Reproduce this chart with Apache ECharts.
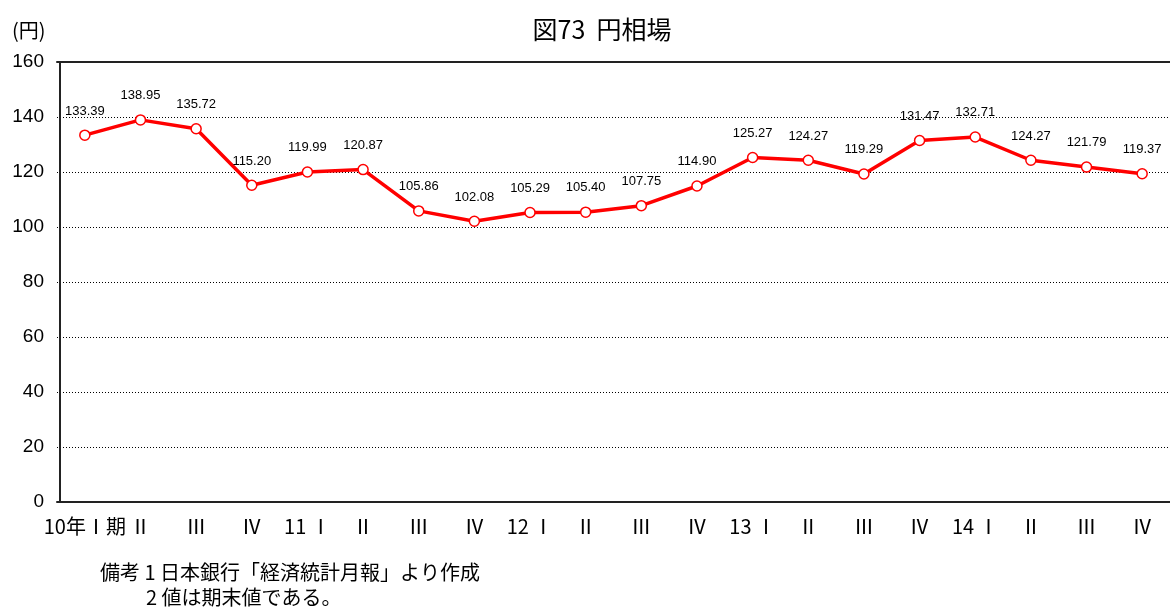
<!DOCTYPE html>
<html><head><meta charset="utf-8">
<script src="https://cdn.jsdelivr.net/npm/echarts@6/dist/echarts.min.js"></script>
<style>html,body{margin:0;padding:0;background:#fff}#c{width:1170px;height:610px}</style>
</head><body><div id="c"></div>
<script>
const categories = ['10年Ⅰ期','Ⅱ','Ⅲ','Ⅳ','11 Ⅰ','Ⅱ','Ⅲ','Ⅳ','12 Ⅰ','Ⅱ','Ⅲ','Ⅳ','13 Ⅰ','Ⅱ','Ⅲ','Ⅳ','14 Ⅰ','Ⅱ','Ⅲ','Ⅳ'];
const yenRate = [133.39,138.95,135.72,115.20,119.99,120.87,105.86,102.08,105.29,105.40,107.75,114.90,125.27,124.27,119.29,131.47,132.71,124.27,121.79,119.37];
const yTicks = [0,20,40,60,80,100,120,140,160];
const titleText = '図73  円相場';
const unitText = '(円)';
const noteLines = ['備考 1 日本銀行「経済統計月報」より作成', '2 値は期末値である。'];

const NUM = "'Liberation Sans', Arial, sans-serif";
const JP = "'Noto Sans CJK JP', 'Liberation Sans', sans-serif";
const chart = echarts.init(document.getElementById('c'), null, {renderer:'canvas'});
chart.setOption({
  animation:false,
  backgroundColor:'#fff',
  title:{text:titleText,left:597,textAlign:'center',top:12,textStyle:{fontFamily:JP,fontSize:25,fontWeight:'normal',color:'#000'}},
  graphic:[
    {type:'text',left:12,top:20,style:{text:unitText,font:"20px "+JP,fill:'#000'}},
    {type:'text',left:100,top:562,style:{text:noteLines[0],font:"20px "+JP,fill:'#000'}},
    {type:'text',left:146,top:587,style:{text:noteLines[1],font:"20px "+JP,fill:'#000'}}
  ],
  grid:{left:57,top:62,width:1121,height:440,containLabel:false},
  xAxis:[{
    type:'category',data:categories,boundaryGap:true,
    axisLine:{show:true,lineStyle:{color:'#222',width:2}},
    axisTick:{show:false},
    axisLabel:{interval:0,margin:14,fontFamily:JP,fontSize:20,color:'#000'},
    splitLine:{show:false}
  },{
    type:'category',data:categories,position:'top',boundaryGap:true,
    axisLine:{show:true,lineStyle:{color:'#222',width:2}},
    axisTick:{show:false},axisLabel:{show:false}
  }],
  yAxis:{
    type:'value',min:0,max:160,interval:20,offset:-3,
    axisLine:{show:true,lineStyle:{color:'#222',width:2}},
    axisTick:{show:false},
    axisLabel:{margin:16,fontFamily:NUM,fontSize:19,color:'#000',
      formatter:v=>yTicks.includes(v)?String(v):''},
    splitLine:{show:true,lineStyle:{color:'#000',type:[1,2],width:1}}
  },
  series:[{
    type:'line',data:yenRate,
    lineStyle:{color:'#ff0000',width:3.5},
    symbol:'circle',symbolSize:10,
    itemStyle:{color:'#fff',borderColor:'#ff0000',borderWidth:1.5},
    label:{show:true,position:'top',distance:12,fontFamily:NUM,fontSize:13,color:'#000',
      formatter:p=>p.value.toFixed(2)}
  }]
});
</script></body></html>
